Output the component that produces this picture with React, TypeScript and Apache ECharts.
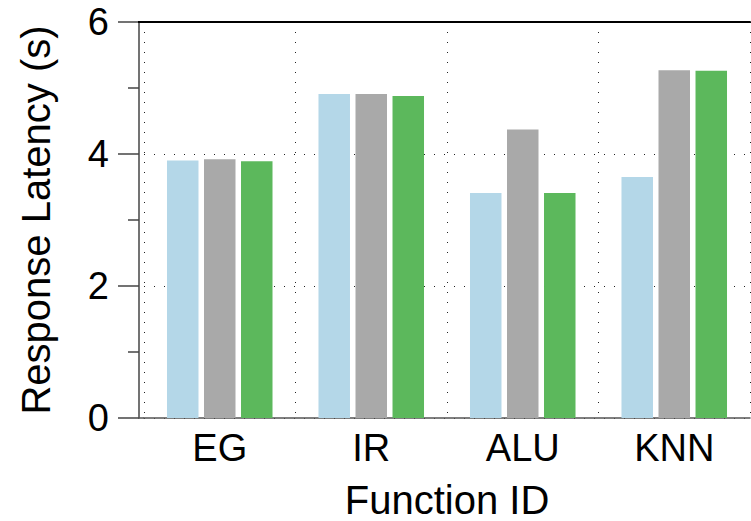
import React, { useEffect, useRef } from "react";
import * as echarts from "echarts";

const categories = ["EG", "IR", "ALU", "KNN"];
const seriesA = [3.9, 4.91, 3.41, 3.65];
const seriesB = [3.92, 4.91, 4.37, 5.27];
const seriesC = [3.89, 4.88, 3.41, 5.26];
const seriesNames = ["A", "B", "C"];
const colors = ["#b4d7e8", "#a9a9a9", "#5cb85c"];

const FONT = "'Liberation Sans', Arial, Helvetica, sans-serif";

export default function App() {
  const ref = useRef<HTMLDivElement>(null);
  useEffect(() => {
    if (!ref.current) return;
    const chart = echarts.init(ref.current, undefined, { renderer: "svg" });
    const dotted = { color: "#222", width: 1, type: [1, 9] as number[] };
    const gridLeft = 144;
    const gridTop = 22;
    const gridBottom = 103;
    const H = 521;
    chart.setOption({
      animation: false,
      textStyle: { fontFamily: FONT },
      grid: { left: gridLeft, right: 1, top: gridTop, bottom: gridBottom, containLabel: false, outerBoundsMode: "none" },
      xAxis: [
        {
          type: "category",
          data: categories,
          position: "bottom",
          axisLine: { show: true, lineStyle: { color: "#555", width: 1.5 } },
          axisTick: { show: false },
          axisLabel: { fontSize: 38, color: "#000", margin: 11, fontFamily: FONT },
          splitLine: { show: true, interval: 0, lineStyle: dotted },
          name: "Function ID",
          nameLocation: "middle",
          nameGap: 62,
          nameTextStyle: { fontSize: 40, color: "#000", fontFamily: FONT },
        },
        {
          type: "category",
          data: categories,
          position: "top",
          axisLine: { show: true, lineStyle: { color: "#000", width: 2 } },
          axisTick: { show: false },
          axisLabel: { show: false },
          splitLine: { show: false },
        },
      ],
      yAxis: {
        type: "value",
        min: 0,
        max: 6,
        interval: 2,
        offset: 5,
        axisLine: { show: true, lineStyle: { color: "#444", width: 1.5 } },
        axisTick: { show: true, inside: false, length: 21, lineStyle: { color: "#444", width: 1.5 } },
        minorTick: { show: true, splitNumber: 2, length: 11, lineStyle: { color: "#444", width: 1.5 } },
        axisLabel: { fontSize: 38, color: "#000", margin: 30, fontFamily: FONT },
        splitLine: { show: true, lineStyle: dotted },
        name: "Response Latency (s)",
        nameLocation: "middle",
        nameGap: 83,
        nameTextStyle: { fontSize: 40, color: "#000", fontFamily: FONT },
      },
      graphic: [
        { type: "line", z: 10, shape: { x1: gridLeft - 6, y1: H - gridBottom, x2: gridLeft, y2: H - gridBottom }, style: { stroke: "#555", lineWidth: 1.5 } },
        { type: "line", z: 10, shape: { x1: gridLeft - 6, y1: gridTop, x2: gridLeft, y2: gridTop }, style: { stroke: "#000", lineWidth: 2 } },
      ],
      series: [seriesA, seriesB, seriesC].map((d, i) => ({
        type: "bar",
        name: seriesNames[i],
        data: d,
        barWidth: 31.5,
        barGap: "17.5%",
        itemStyle: { color: colors[i] },
        z: 3,
      })),
    });
    return () => chart.dispose();
  }, []);
  return (
    <div
      ref={ref}
      style={{ position: "fixed", left: 0, top: 0, width: 751, height: 521, background: "#fff" }}
    />
  );
}
